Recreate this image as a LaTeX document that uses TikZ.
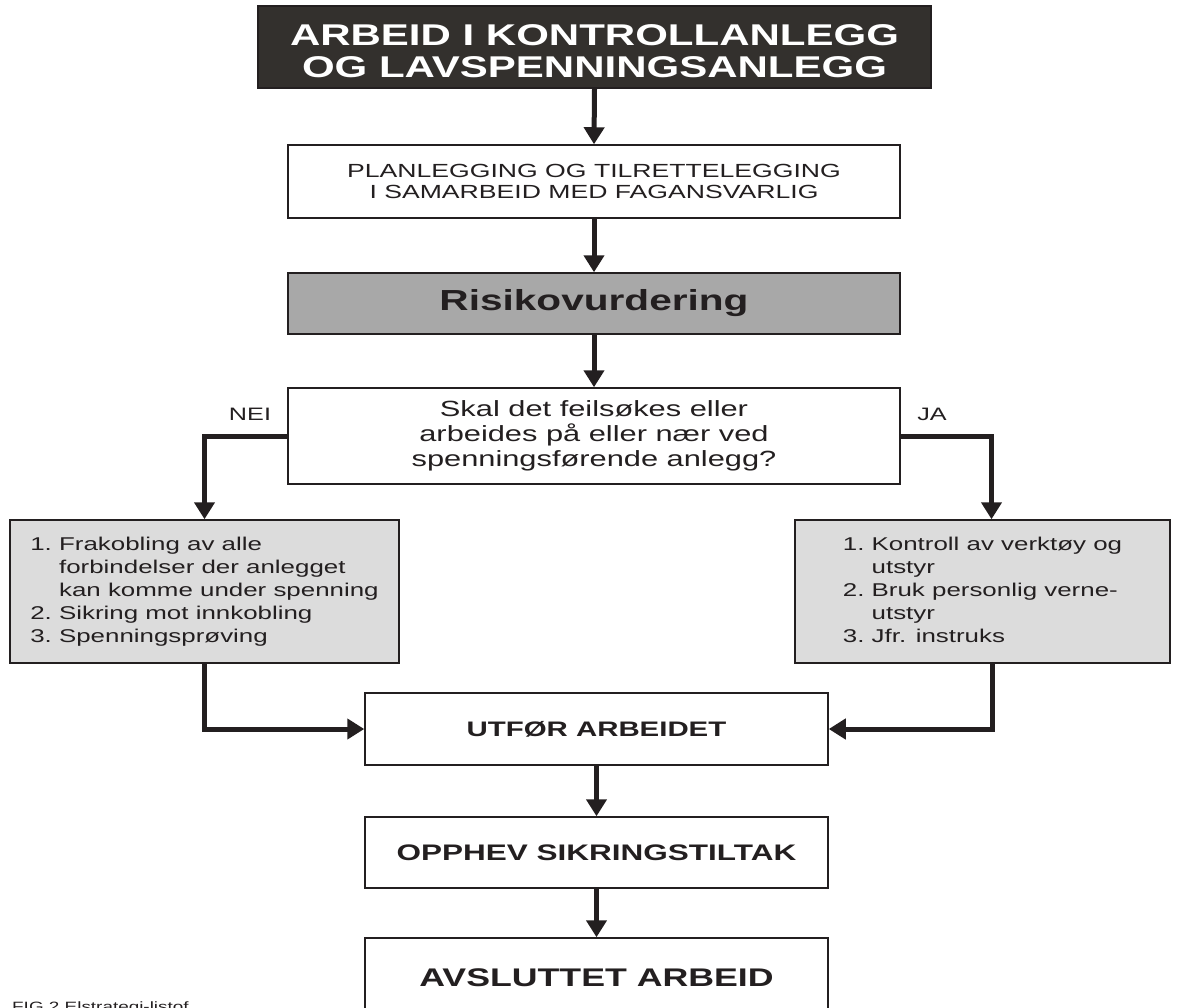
\documentclass[tikz,border=0pt]{standalone}
\usepackage{fontspec}
\setmainfont{Liberation Sans}[FakeStretch=1.4]
\usetikzlibrary{arrows.meta}
\definecolor{ink}{HTML}{231F20}
\definecolor{darkbox}{HTML}{33302D}
\definecolor{midgray}{HTML}{A8A8A8}
\definecolor{lightgray}{HTML}{DCDCDC}
\tikzset{
  box/.style={draw=ink, line width=1.5pt, inner sep=0pt, align=center, text=ink},
  flow/.style={draw=ink, line width=5pt, -{Triangle[width=20pt,length=17pt]}},
  lbl/.style={inner sep=0pt, text=ink, font=\fontsize{18}{20}\selectfont},
}
\begin{document}
\begin{tikzpicture}[x=1pt,y=-1pt]
\useasboundingbox (0,0) rectangle (1180,1007);
\node[box, fill=darkbox, minimum width=673pt, minimum height=82pt] (title) at (594.5,47) {};
\node[inner sep=0pt, align=center, text=white,
  font=\bfseries\fontsize{30}{32}\selectfont] (titletext) at (594.5,51)
  {ARBEID I KONTROLLANLEGG\\OG LAVSPENNINGSANLEGG};
\node[box, fill=white, minimum width=612pt, minimum height=73pt,
  font=\fontsize{19}{21}\selectfont] (plan) at (594,181.5)
  {PLANLEGGING OG TILRETTELEGGING\\I SAMARBEID MED FAGANSVARLIG};
\node[box, fill=midgray, minimum width=612pt, minimum height=61pt,
  font=\bfseries\fontsize{29}{31}\selectfont] (risk) at (594,303.5)
  {Risikovurdering};
\node[box, fill=white, minimum width=612pt, minimum height=96pt,
  font=\fontsize{22}{25}\selectfont] (dec) at (594,436)
  {Skal det feilsøkes eller\\arbeides på eller nær ved\\spenningsførende anlegg?};
\node[box, fill=lightgray, minimum width=389pt, minimum height=143pt,
  font=\fontsize{18.5}{23}\selectfont] (left) at (204.5,591.5)
  {\begin{tabular}{@{}l@{\ }l@{}}
   1. & Frakobling av alle\\
      & forbindelser der anlegget\\
      & kan komme under spenning\\
   2. & Sikring mot innkobling\\
   3. & Spenningsprøving
   \end{tabular}};
\node[box, fill=lightgray, minimum width=375pt, minimum height=143pt,
  font=\fontsize{18.5}{23}\selectfont] (right) at (982.5,591.5)
  {\begin{tabular}{@{}l@{\ }l@{}}
   1. & Kontroll av verktøy og\\
      & utstyr\\
   2. & Bruk personlig verne-\\
      & utstyr\\
   3. & Jfr. instruks
   \end{tabular}};
\node[box, fill=white, minimum width=463pt, minimum height=72pt,
  font=\bfseries\fontsize{21}{24}\selectfont] (utfor) at (596.5,729)
  {UTFØR ARBEIDET};
\node[box, fill=white, minimum width=463pt, minimum height=71pt,
  font=\bfseries\fontsize{22.5}{25}\selectfont] (opphev) at (596.5,852.5)
  {OPPHEV SIKRINGSTILTAK};
\node[box, fill=white, minimum width=463pt, minimum height=80pt,
  font=\bfseries\fontsize{25.5}{28}\selectfont] (avsl) at (596.5,978)
  {AVSLUTTET ARBEID};
\node[lbl] (nei) at (250,414) {NEI};
\node[lbl] (ja) at (932,414) {JA};
\node[anchor=base west, inner sep=0pt, text=ink, font=\fontsize{13.5}{15}\selectfont] (fig) at (12,1011)
  {FIG.2 Elstrategi-listof};
\draw[flow] (title.south) -- (plan.north);
\draw[flow] (plan.south) -- (risk.north);
\draw[flow] (risk.south) -- (dec.north);
\draw[flow] (dec.west) -| (left.north);
\draw[flow] (dec.east) -| ([xshift=9pt]right.north);
\draw[flow] (left.south) |- (utfor.west);
\draw[flow] ([xshift=10pt]right.south) |- (utfor.east);
\draw[flow] (utfor.south) -- (opphev.north);
\draw[flow] (opphev.south) -- (avsl.north);
\end{tikzpicture}
\end{document}
